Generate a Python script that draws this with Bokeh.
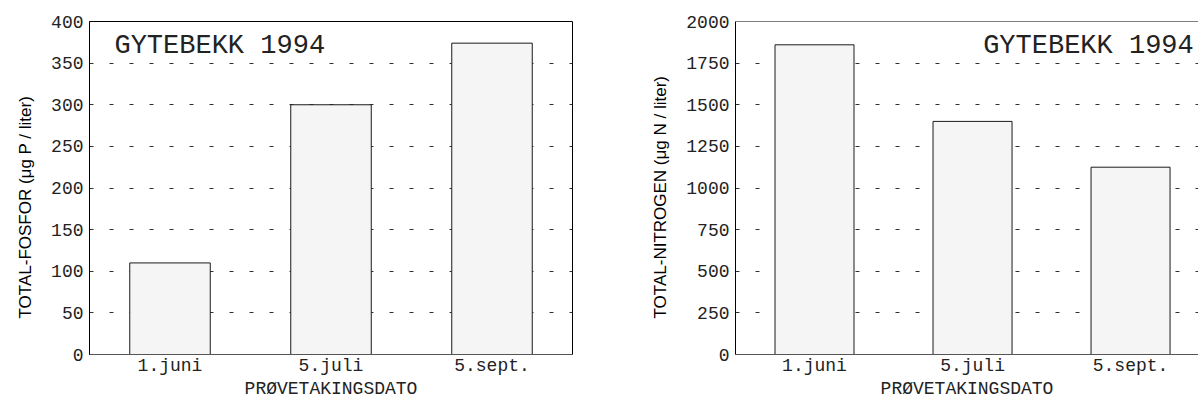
import numpy as np
from bokeh.plotting import figure
from bokeh.models import Range1d, FixedTicker, Label, Span, Title
from bokeh.layouts import row
from bokeh.embed import file_html
from bokeh.resources import INLINE

# ---- data ----
dates = ["1.juni", "5.juli", "5.sept."]
fosfor = [110, 300, 374]
nitrogen = [1860, 1400, 1125]
fosfor_ticks = [0, 50, 100, 150, 200, 250, 300, 350, 400]
nitrogen_ticks = [0, 250, 500, 750, 1000, 1250, 1500, 1750, 2000]
title_text = "GYTEBEKK 1994"
x_title = "PRØVETAKINGSDATO"
fosfor_label = "TOTAL-FOSFOR (μg P / liter)"
nitrogen_label = "TOTAL-NITROGEN (μg N / liter)"

MONO = "Liberation Mono"
SANS = "Liberation Sans"
H = 401


def make(values, ticks, ylabel, width, x_end, border_left, border_right):
    xs = np.arange(len(dates)) + 0.5
    p = figure(width=width, height=H, output_backend="svg", toolbar_location=None,
               x_range=Range1d(0, x_end), y_range=Range1d(ticks[0], ticks[-1]),
               min_border_left=border_left, min_border_right=border_right,
               min_border_top=21, min_border_bottom=47)
    p.background_fill_color = "white"
    p.border_fill_color = "white"

    p.vbar(x=xs, top=values, bottom=0, width=0.5,
           fill_color="#f5f5f5", line_color="#1a1a1a", line_width=1)

    # grid
    p.xgrid.visible = False
    p.ygrid.ticker = FixedTicker(ticks=ticks)
    p.ygrid.grid_line_color = "#333333"
    p.ygrid.grid_line_dash = "4 16"
    p.ygrid.grid_line_width = 1

    # y axis
    p.yaxis.ticker = FixedTicker(ticks=ticks)
    p.yaxis.major_tick_line_color = None
    p.yaxis.minor_tick_line_color = None
    p.yaxis.major_tick_out = 0
    p.yaxis.major_tick_in = 0
    p.yaxis.minor_tick_out = 0
    p.yaxis.axis_line_color = "black"
    p.yaxis.major_label_text_font = MONO
    p.yaxis.major_label_text_font_size = "18px"
    p.yaxis.major_label_text_color = "#222222"
    p.yaxis.major_label_standoff = 6

    # vertical axis title, anchored near the bottom like the reference
    p.add_layout(Title(text=ylabel, align="left", offset=36, standoff=27,
                       text_font=SANS, text_font_size="17px",
                       text_font_style="normal", text_color="black"), "left")

    # x axis
    p.xaxis.ticker = FixedTicker(ticks=list(xs))
    p.xaxis.major_label_overrides = {float(x): d for x, d in zip(xs, dates)}
    p.xaxis.major_tick_line_color = None
    p.xaxis.minor_tick_line_color = None
    p.xaxis.major_tick_out = 0
    p.xaxis.major_tick_in = 0
    p.xaxis.minor_tick_out = 0
    p.xaxis.axis_line_color = "#555555"
    p.xaxis.major_label_text_font = MONO
    p.xaxis.major_label_text_font_size = "18px"
    p.xaxis.major_label_text_color = "#222222"
    p.xaxis.major_label_standoff = 1
    p.xaxis.axis_label = x_title
    p.xaxis.axis_label_text_font = MONO
    p.xaxis.axis_label_text_font_size = "18px"
    p.xaxis.axis_label_text_font_style = "normal"
    p.xaxis.axis_label_text_color = "#222222"
    p.xaxis.axis_label_standoff = 0
    return p


# left figure: frame 88..572
p1 = make(fosfor, fosfor_ticks, fosfor_label, 600, 3.0, 88, 28)
p1.outline_line_color = "black"
p1.outline_line_width = 1
p1.outline_line_alpha = 1.0
p1.add_layout(Label(x=0.155, y=370, text=title_text, text_font=MONO,
                    text_font_size="27px", text_color="#222222",
                    text_baseline="alphabetic", text_align="left"))

# right figure: frame 735..1198 (cut at window edge like reference)
p2 = make(nitrogen, nitrogen_ticks, nitrogen_label, 598, 2.93, 135, 0)
p2.outline_line_color = None
p2.add_layout(Span(location=nitrogen_ticks[-1], dimension="width",
                   line_color="black", line_width=1))
p2.add_layout(Label(x=2.9, y=1850, text=title_text, text_font=MONO,
                    text_font_size="27px", text_color="#222222",
                    text_baseline="alphabetic", text_align="right"))

layout = row(p1, p2)
open("out.html", "w").write(file_html(layout, INLINE))
